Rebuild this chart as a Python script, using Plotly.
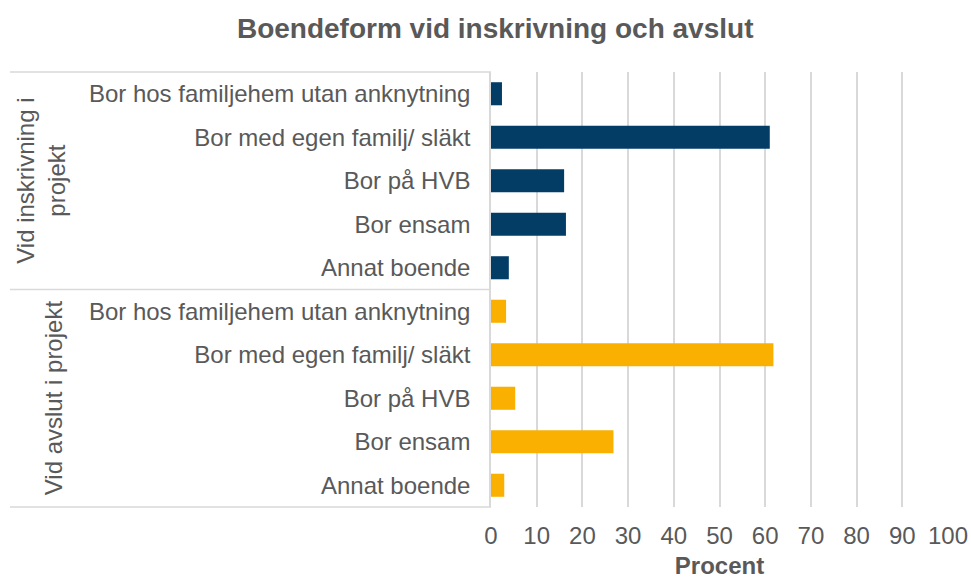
import plotly.graph_objects as go

title = "Boendeform vid inskrivning och avslut"
categories = ["Bor hos familjehem utan anknytning", "Bor med egen familj/ släkt",
              "Bor på HVB", "Bor ensam", "Annat boende"]
groups = ["Vid inskrivning i<br>projekt", "Vid avslut i projekt"]
inskrivning = [2.4, 61.0, 16.0, 16.4, 3.9]
avslut = [3.3, 61.8, 5.3, 26.8, 2.9]
x_ticks = [0, 10, 20, 30, 40, 50, 60, 70, 80, 90, 100]
x_title = "Procent"

W, H = 971, 579
L, R, T, B = 491, 23, 72, 72
pw = W - L - R
ph = H - T - B
def px2x(p):
    return (p - L) / pw

ids1 = ["g1_" + c for c in categories]
ids2 = ["g2_" + c for c in categories]
grey = "#595959"
font = "Liberation Sans, Arial, sans-serif"
FS = 24

fig = go.Figure()
fig.add_trace(go.Bar(y=ids1, x=inskrivning, orientation="h", marker_color="#033D66",
                     marker_line_width=0, showlegend=False))
fig.add_trace(go.Bar(y=ids2, x=avslut, orientation="h", marker_color="#F9B000",
                     marker_line_width=0, showlegend=False))

fig.update_layout(
    width=W, height=H,
    margin=dict(l=L, r=R, t=T, b=B, autoexpand=False),
    paper_bgcolor="white", plot_bgcolor="white",
    barmode="overlay", bargap=0.47,
    font=dict(family=font, color=grey, size=FS),
    title=dict(text="<b>" + title + "</b>", x=0.51, xanchor="center", y=1 - 28 / H,
               yanchor="middle", font=dict(size=28, color=grey)),
)
fig.update_xaxes(range=[0, 100], tickvals=x_ticks, showgrid=True, gridcolor="#D9D9D9",
                 gridwidth=1.5, zeroline=False, showline=False, ticks="",
                 ticklabelstandoff=12, tickfont=dict(size=FS, color=grey),
                 title=dict(text="<b>" + x_title + "</b>", standoff=9,
                            font=dict(size=FS, color=grey)))
fig.update_yaxes(type="category", categoryorder="array", categoryarray=ids1 + ids2,
                 autorange="reversed", tickvals=ids1 + ids2, ticktext=categories + categories,
                 showgrid=False, showline=True, linecolor="#D9D9D9", linewidth=1.5,
                 ticks="", ticklabelstandoff=14, tickfont=dict(size=FS, color=grey))

x0 = px2x(10)
for yy in [1.0, 0.5, 0.0]:
    fig.add_shape(type="line", xref="paper", yref="paper", x0=x0, x1=0, y0=yy, y1=yy,
                  line=dict(color="#D9D9D9", width=1.5))

fig.add_annotation(text=groups[0], xref="paper", yref="paper", x=px2x(41), y=0.75,
                   textangle=-90, showarrow=False, font=dict(size=FS, color=grey),
                   xanchor="center", yanchor="middle")
fig.add_annotation(text=groups[1], xref="paper", yref="paper", x=px2x(53), y=0.25,
                   textangle=-90, showarrow=False, font=dict(size=FS, color=grey),
                   xanchor="center", yanchor="middle")

fig.write_html("out.html", config={"displayModeBar": False},
               post_script="document.body.style.margin='0';")
